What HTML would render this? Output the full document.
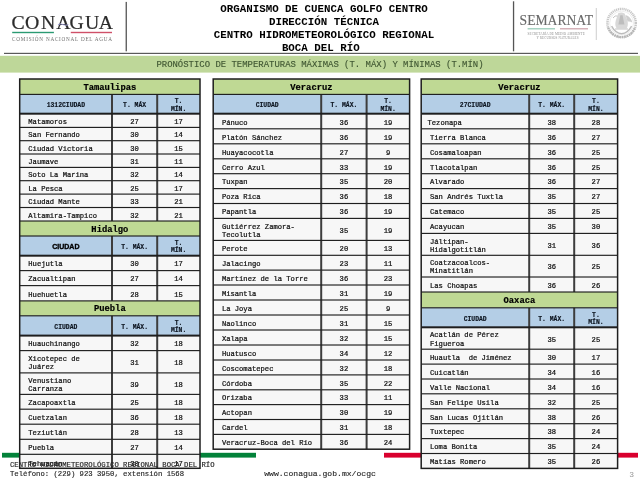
<!DOCTYPE html>
<html><head><meta charset="utf-8"><title>Pronóstico de temperaturas</title>
<style>
html,body{margin:0;padding:0;background:#fff;}
body{width:640px;height:480px;overflow:hidden;position:relative;font-family:"Liberation Mono", "DejaVu Sans Mono", monospace;}
.a{position:absolute;}
.t{position:absolute;white-space:pre;line-height:1;}
svg{position:absolute;left:0;top:0;}
</style></head><body>
<!-- header graphics -->
<svg width="640" height="480" viewBox="0 0 640 480">
  <!-- CONAGUA logo -->
<text transform="translate(0 28.7) scale(1.08 1)" x="10.55 23.14 38.08 52.14 64.34 78.60 91.40" y="0" font-family='"Liberation Serif", "DejaVu Serif", serif' font-size="18.3" fill="#2b2b2b" stroke="#2b2b2b" stroke-width="0.22">CONAGUA</text>
  <path d="M58 24.6 q2.6 -1.4 5.2 0 t5.2 0" fill="none" stroke="#9a9ad2" stroke-width="0.9"/>
  <rect x="12.2" y="31.8" width="41.7" height="1.4" fill="#2a9a72"/>
  <rect x="70.8" y="31.8" width="41.2" height="1.4" fill="#cf5068"/>
  <text x="62.5" y="41.3" font-family='"Liberation Serif", "DejaVu Serif", serif' font-size="5.2" fill="#707070" text-anchor="middle" letter-spacing="0.76">COMISIÓN NACIONAL DEL AGUA</text>
  <rect x="125.6" y="1.9" width="1.3" height="49.4" fill="#555"/>
  <!-- SEMARNAT -->
  <rect x="512.9" y="1.3" width="1.3" height="50" fill="#555"/>
  <text x="0" y="0" transform="translate(519.6 25.4) scale(0.885 1)" font-family='"Liberation Serif", "DejaVu Serif", serif' font-size="15.4" fill="#6a6a6a" stroke="#6a6a6a" stroke-width="0.15">SEMARNAT</text>
  <rect x="527.6" y="28.4" width="27.4" height="0.9" fill="#6fb59a"/>
  <rect x="560" y="28.4" width="28" height="0.9" fill="#b9808c"/>
  <text x="556.2" y="34.9" font-family='"Liberation Serif", "DejaVu Serif", serif' font-size="3.3" fill="#8f8f8f" text-anchor="middle" letter-spacing="0.1">SECRETARÍA DE MEDIO AMBIENTE</text>
  <text x="557.5" y="38.9" font-family='"Liberation Serif", "DejaVu Serif", serif' font-size="3.3" fill="#8f8f8f" text-anchor="middle" letter-spacing="0.1">Y RECURSOS NATURALES</text>
  <rect x="595.8" y="8" width="0.9" height="32" fill="#c8c8c8"/>
  <!-- emblem -->
  <g>
    <circle cx="621.6" cy="23.1" r="14.2" fill="none" stroke="#c6c6c6" stroke-width="2.5" stroke-dasharray="1.2 0.7"/>
    <path d="M608.2 27.5 A14.2 14.2 0 0 0 635 27.5" fill="none" stroke="#b4b4b4" stroke-width="2.2" stroke-dasharray="1.6 0.9"/>
    <circle cx="621.6" cy="23.1" r="11.9" fill="none" stroke="#e0e0e0" stroke-width="0.6"/>
    <path d="M618.2 13.2 Q621.5 11.6 624.6 13.4 L627.4 20.5 Q628.6 25.2 626.6 28.4 L616.6 28.4 Q614.6 25 615.8 20.5 Z" fill="#d8d8d8"/>
    <path d="M620.3 15.2 L622.6 15.2 L624.4 24.5 L618.4 24.5 Z" fill="#bdbdbd"/>
    <path d="M625.5 15 Q631 16.5 632.3 22.5 Q629.8 21 627.6 21.6 Z" fill="#cfcfcf"/>
    <path d="M613 18 Q615 15 617.5 16" fill="none" stroke="#c4c4c4" stroke-width="1"/>
    <path d="M611.6 26.2 Q615.5 33.4 621.6 33.8 Q627.8 33.4 631.6 26.2" fill="none" stroke="#bcbcbc" stroke-width="1.4"/>
    <path d="M615 29 L628 29" stroke="#c8c8c8" stroke-width="1.1"/>
  </g>
  <!-- rule and band -->
  <rect x="4" y="52.8" width="634" height="1.2" fill="#5a5a5a"/>
  <rect x="0" y="55.8" width="640" height="16.8" fill="#bed799"/>
</svg>
<div class="t" style="left:0;width:648px;text-align:center;top:2.55px;font-size:10.8px;font-weight:bold;color:#000;line-height:13px;">ORGANISMO DE CUENCA GOLFO CENTRO
DIRECCIÓN TÉCNICA
CENTRO HIDROMETEOROLÓGICO REGIONAL
BOCA DEL RÍO </div>
<div class="t" style="left:0;width:640px;text-align:center;top:61.0px;font-size:8.95px;color:#3e5531;-webkit-text-stroke:0.12px #3e5531;">PRONÓSTICO DE TEMPERATURAS MÁXIMAS (T. MÁX) Y MÍNIMAS (T.MÍN)</div>
<!-- footer bars (under tables) -->
<svg width="640" height="480" viewBox="0 0 640 480">
  <rect x="2" y="452.8" width="254" height="4.8" fill="#03823a"/>
  <rect x="384" y="452.8" width="254" height="4.8" fill="#d9002e"/>
</svg>
<svg width="640" height="480" viewBox="0 0 640 480">
<rect x="19.70" y="79.00" width="180.30" height="15.40" fill="#bfd994"/>
<text x="109.85" y="89.80" font-family='"Liberation Mono", "DejaVu Sans Mono", monospace' font-size="8.8" font-weight="bold" text-anchor="middle" fill="#000" stroke="#000" stroke-width="0.2">Tamaulipas</text>
<rect x="19.70" y="94.40" width="180.30" height="19.30" fill="#b4cee6"/>
<text x="65.85" y="107.06" font-family='"Liberation Mono", "DejaVu Sans Mono", monospace' font-size="6.4" font-weight="bold" text-anchor="middle" fill="#0d1520" stroke="#0d1520" stroke-width="0.15">1312CIUDAD</text>
<text x="134.60" y="107.06" font-family='"Liberation Mono", "DejaVu Sans Mono", monospace' font-size="6.4" font-weight="bold" text-anchor="middle" fill="#0d1520" stroke="#0d1520" stroke-width="0.15">T. MÁX</text>
<text x="178.60" y="103.46" font-family='"Liberation Mono", "DejaVu Sans Mono", monospace' font-size="6.4" font-weight="bold" text-anchor="middle" fill="#0d1520" stroke="#0d1520" stroke-width="0.15">T.</text>
<text x="178.60" y="110.66" font-family='"Liberation Mono", "DejaVu Sans Mono", monospace' font-size="6.4" font-weight="bold" text-anchor="middle" fill="#0d1520" stroke="#0d1520" stroke-width="0.15">MÍN.</text>
<rect x="19.70" y="113.70" width="180.30" height="13.70" fill="#f7f7f7"/>
<text x="28.30" y="123.81" font-family='"Liberation Mono", "DejaVu Sans Mono", monospace' font-size="7.17" font-weight="normal" text-anchor="start" fill="#111" xml:space="preserve" stroke="#111" stroke-width="0.22">Matamoros</text>
<text x="134.60" y="123.81" font-family='"Liberation Mono", "DejaVu Sans Mono", monospace' font-size="7.17" font-weight="normal" text-anchor="middle" fill="#111" stroke="#111" stroke-width="0.22">27</text>
<text x="178.60" y="123.81" font-family='"Liberation Mono", "DejaVu Sans Mono", monospace' font-size="7.17" font-weight="normal" text-anchor="middle" fill="#111" stroke="#111" stroke-width="0.22">17</text>
<rect x="19.70" y="127.40" width="180.30" height="13.30" fill="#f7f7f7"/>
<text x="28.30" y="137.31" font-family='"Liberation Mono", "DejaVu Sans Mono", monospace' font-size="7.17" font-weight="normal" text-anchor="start" fill="#111" xml:space="preserve" stroke="#111" stroke-width="0.22">San Fernando</text>
<text x="134.60" y="137.31" font-family='"Liberation Mono", "DejaVu Sans Mono", monospace' font-size="7.17" font-weight="normal" text-anchor="middle" fill="#111" stroke="#111" stroke-width="0.22">30</text>
<text x="178.60" y="137.31" font-family='"Liberation Mono", "DejaVu Sans Mono", monospace' font-size="7.17" font-weight="normal" text-anchor="middle" fill="#111" stroke="#111" stroke-width="0.22">14</text>
<rect x="19.70" y="140.70" width="180.30" height="13.30" fill="#f7f7f7"/>
<text x="28.30" y="150.61" font-family='"Liberation Mono", "DejaVu Sans Mono", monospace' font-size="7.17" font-weight="normal" text-anchor="start" fill="#111" xml:space="preserve" stroke="#111" stroke-width="0.22">Ciudad Victoria</text>
<text x="134.60" y="150.61" font-family='"Liberation Mono", "DejaVu Sans Mono", monospace' font-size="7.17" font-weight="normal" text-anchor="middle" fill="#111" stroke="#111" stroke-width="0.22">30</text>
<text x="178.60" y="150.61" font-family='"Liberation Mono", "DejaVu Sans Mono", monospace' font-size="7.17" font-weight="normal" text-anchor="middle" fill="#111" stroke="#111" stroke-width="0.22">15</text>
<rect x="19.70" y="154.00" width="180.30" height="13.40" fill="#f7f7f7"/>
<text x="28.30" y="163.96" font-family='"Liberation Mono", "DejaVu Sans Mono", monospace' font-size="7.17" font-weight="normal" text-anchor="start" fill="#111" xml:space="preserve" stroke="#111" stroke-width="0.22">Jaumave</text>
<text x="134.60" y="163.96" font-family='"Liberation Mono", "DejaVu Sans Mono", monospace' font-size="7.17" font-weight="normal" text-anchor="middle" fill="#111" stroke="#111" stroke-width="0.22">31</text>
<text x="178.60" y="163.96" font-family='"Liberation Mono", "DejaVu Sans Mono", monospace' font-size="7.17" font-weight="normal" text-anchor="middle" fill="#111" stroke="#111" stroke-width="0.22">11</text>
<rect x="19.70" y="167.40" width="180.30" height="13.30" fill="#f7f7f7"/>
<text x="28.30" y="177.31" font-family='"Liberation Mono", "DejaVu Sans Mono", monospace' font-size="7.17" font-weight="normal" text-anchor="start" fill="#111" xml:space="preserve" stroke="#111" stroke-width="0.22">Soto La Marina</text>
<text x="134.60" y="177.31" font-family='"Liberation Mono", "DejaVu Sans Mono", monospace' font-size="7.17" font-weight="normal" text-anchor="middle" fill="#111" stroke="#111" stroke-width="0.22">32</text>
<text x="178.60" y="177.31" font-family='"Liberation Mono", "DejaVu Sans Mono", monospace' font-size="7.17" font-weight="normal" text-anchor="middle" fill="#111" stroke="#111" stroke-width="0.22">14</text>
<rect x="19.70" y="180.70" width="180.30" height="13.40" fill="#f7f7f7"/>
<text x="28.30" y="190.66" font-family='"Liberation Mono", "DejaVu Sans Mono", monospace' font-size="7.17" font-weight="normal" text-anchor="start" fill="#111" xml:space="preserve" stroke="#111" stroke-width="0.22">La Pesca</text>
<text x="134.60" y="190.66" font-family='"Liberation Mono", "DejaVu Sans Mono", monospace' font-size="7.17" font-weight="normal" text-anchor="middle" fill="#111" stroke="#111" stroke-width="0.22">25</text>
<text x="178.60" y="190.66" font-family='"Liberation Mono", "DejaVu Sans Mono", monospace' font-size="7.17" font-weight="normal" text-anchor="middle" fill="#111" stroke="#111" stroke-width="0.22">17</text>
<rect x="19.70" y="194.10" width="180.30" height="13.40" fill="#f7f7f7"/>
<text x="28.30" y="204.06" font-family='"Liberation Mono", "DejaVu Sans Mono", monospace' font-size="7.17" font-weight="normal" text-anchor="start" fill="#111" xml:space="preserve" stroke="#111" stroke-width="0.22">Ciudad Mante</text>
<text x="134.60" y="204.06" font-family='"Liberation Mono", "DejaVu Sans Mono", monospace' font-size="7.17" font-weight="normal" text-anchor="middle" fill="#111" stroke="#111" stroke-width="0.22">33</text>
<text x="178.60" y="204.06" font-family='"Liberation Mono", "DejaVu Sans Mono", monospace' font-size="7.17" font-weight="normal" text-anchor="middle" fill="#111" stroke="#111" stroke-width="0.22">21</text>
<rect x="19.70" y="207.50" width="180.30" height="13.50" fill="#f7f7f7"/>
<text x="28.30" y="217.51" font-family='"Liberation Mono", "DejaVu Sans Mono", monospace' font-size="7.17" font-weight="normal" text-anchor="start" fill="#111" xml:space="preserve" stroke="#111" stroke-width="0.22">Altamira-Tampico</text>
<text x="134.60" y="217.51" font-family='"Liberation Mono", "DejaVu Sans Mono", monospace' font-size="7.17" font-weight="normal" text-anchor="middle" fill="#111" stroke="#111" stroke-width="0.22">32</text>
<text x="178.60" y="217.51" font-family='"Liberation Mono", "DejaVu Sans Mono", monospace' font-size="7.17" font-weight="normal" text-anchor="middle" fill="#111" stroke="#111" stroke-width="0.22">21</text>
<rect x="19.70" y="221.00" width="180.30" height="15.00" fill="#bfd994"/>
<text x="109.85" y="231.60" font-family='"Liberation Mono", "DejaVu Sans Mono", monospace' font-size="8.8" font-weight="bold" text-anchor="middle" fill="#000" stroke="#000" stroke-width="0.2">Hidalgo</text>
<rect x="19.70" y="236.00" width="180.30" height="19.70" fill="#b4cee6"/>
<text x="65.85" y="248.96" font-family='"Liberation Sans", "DejaVu Sans", sans-serif' font-size="7.0" font-weight="bold" text-anchor="middle" fill="#000" stroke="#000" stroke-width="0.35">CIUDAD</text>
<text x="134.60" y="248.86" font-family='"Liberation Mono", "DejaVu Sans Mono", monospace' font-size="6.4" font-weight="bold" text-anchor="middle" fill="#0d1520" stroke="#0d1520" stroke-width="0.15">T. MÁX.</text>
<text x="178.60" y="245.26" font-family='"Liberation Mono", "DejaVu Sans Mono", monospace' font-size="6.4" font-weight="bold" text-anchor="middle" fill="#0d1520" stroke="#0d1520" stroke-width="0.15">T.</text>
<text x="178.60" y="252.46" font-family='"Liberation Mono", "DejaVu Sans Mono", monospace' font-size="6.4" font-weight="bold" text-anchor="middle" fill="#0d1520" stroke="#0d1520" stroke-width="0.15">MÍN.</text>
<rect x="19.70" y="255.70" width="180.30" height="14.90" fill="#f7f7f7"/>
<text x="28.30" y="266.41" font-family='"Liberation Mono", "DejaVu Sans Mono", monospace' font-size="7.17" font-weight="normal" text-anchor="start" fill="#111" xml:space="preserve" stroke="#111" stroke-width="0.22">Huejutla</text>
<text x="134.60" y="266.41" font-family='"Liberation Mono", "DejaVu Sans Mono", monospace' font-size="7.17" font-weight="normal" text-anchor="middle" fill="#111" stroke="#111" stroke-width="0.22">30</text>
<text x="178.60" y="266.41" font-family='"Liberation Mono", "DejaVu Sans Mono", monospace' font-size="7.17" font-weight="normal" text-anchor="middle" fill="#111" stroke="#111" stroke-width="0.22">17</text>
<rect x="19.70" y="270.60" width="180.30" height="15.00" fill="#f7f7f7"/>
<text x="28.30" y="281.36" font-family='"Liberation Mono", "DejaVu Sans Mono", monospace' font-size="7.17" font-weight="normal" text-anchor="start" fill="#111" xml:space="preserve" stroke="#111" stroke-width="0.22">Zacualtipan</text>
<text x="134.60" y="281.36" font-family='"Liberation Mono", "DejaVu Sans Mono", monospace' font-size="7.17" font-weight="normal" text-anchor="middle" fill="#111" stroke="#111" stroke-width="0.22">27</text>
<text x="178.60" y="281.36" font-family='"Liberation Mono", "DejaVu Sans Mono", monospace' font-size="7.17" font-weight="normal" text-anchor="middle" fill="#111" stroke="#111" stroke-width="0.22">14</text>
<rect x="19.70" y="285.60" width="180.30" height="15.30" fill="#f7f7f7"/>
<text x="28.30" y="296.51" font-family='"Liberation Mono", "DejaVu Sans Mono", monospace' font-size="7.17" font-weight="normal" text-anchor="start" fill="#111" xml:space="preserve" stroke="#111" stroke-width="0.22">Huehuetla</text>
<text x="134.60" y="296.51" font-family='"Liberation Mono", "DejaVu Sans Mono", monospace' font-size="7.17" font-weight="normal" text-anchor="middle" fill="#111" stroke="#111" stroke-width="0.22">28</text>
<text x="178.60" y="296.51" font-family='"Liberation Mono", "DejaVu Sans Mono", monospace' font-size="7.17" font-weight="normal" text-anchor="middle" fill="#111" stroke="#111" stroke-width="0.22">15</text>
<rect x="19.70" y="300.90" width="180.30" height="14.90" fill="#bfd994"/>
<text x="109.85" y="311.45" font-family='"Liberation Mono", "DejaVu Sans Mono", monospace' font-size="8.8" font-weight="bold" text-anchor="middle" fill="#000" stroke="#000" stroke-width="0.2">Puebla</text>
<rect x="19.70" y="315.80" width="180.30" height="19.80" fill="#b4cee6"/>
<text x="65.85" y="328.71" font-family='"Liberation Mono", "DejaVu Sans Mono", monospace' font-size="6.4" font-weight="bold" text-anchor="middle" fill="#0d1520" stroke="#0d1520" stroke-width="0.15">CIUDAD</text>
<text x="134.60" y="328.71" font-family='"Liberation Mono", "DejaVu Sans Mono", monospace' font-size="6.4" font-weight="bold" text-anchor="middle" fill="#0d1520" stroke="#0d1520" stroke-width="0.15">T. MÁX.</text>
<text x="178.60" y="325.11" font-family='"Liberation Mono", "DejaVu Sans Mono", monospace' font-size="6.4" font-weight="bold" text-anchor="middle" fill="#0d1520" stroke="#0d1520" stroke-width="0.15">T.</text>
<text x="178.60" y="332.31" font-family='"Liberation Mono", "DejaVu Sans Mono", monospace' font-size="6.4" font-weight="bold" text-anchor="middle" fill="#0d1520" stroke="#0d1520" stroke-width="0.15">MÍN.</text>
<rect x="19.70" y="335.60" width="180.30" height="15.00" fill="#f7f7f7"/>
<text x="28.30" y="346.36" font-family='"Liberation Mono", "DejaVu Sans Mono", monospace' font-size="7.17" font-weight="normal" text-anchor="start" fill="#111" xml:space="preserve" stroke="#111" stroke-width="0.22">Huauchinango</text>
<text x="134.60" y="346.36" font-family='"Liberation Mono", "DejaVu Sans Mono", monospace' font-size="7.17" font-weight="normal" text-anchor="middle" fill="#111" stroke="#111" stroke-width="0.22">32</text>
<text x="178.60" y="346.36" font-family='"Liberation Mono", "DejaVu Sans Mono", monospace' font-size="7.17" font-weight="normal" text-anchor="middle" fill="#111" stroke="#111" stroke-width="0.22">18</text>
<rect x="19.70" y="350.60" width="180.30" height="22.30" fill="#f7f7f7"/>
<text x="28.30" y="360.96" font-family='"Liberation Mono", "DejaVu Sans Mono", monospace' font-size="7.17" font-weight="normal" text-anchor="start" fill="#111" xml:space="preserve" stroke="#111" stroke-width="0.22">Xicotepec de</text>
<text x="28.30" y="369.06" font-family='"Liberation Mono", "DejaVu Sans Mono", monospace' font-size="7.17" font-weight="normal" text-anchor="start" fill="#111" xml:space="preserve" stroke="#111" stroke-width="0.22">Juárez</text>
<text x="134.60" y="365.01" font-family='"Liberation Mono", "DejaVu Sans Mono", monospace' font-size="7.17" font-weight="normal" text-anchor="middle" fill="#111" stroke="#111" stroke-width="0.22">31</text>
<text x="178.60" y="365.01" font-family='"Liberation Mono", "DejaVu Sans Mono", monospace' font-size="7.17" font-weight="normal" text-anchor="middle" fill="#111" stroke="#111" stroke-width="0.22">18</text>
<rect x="19.70" y="372.90" width="180.30" height="21.50" fill="#f7f7f7"/>
<text x="28.30" y="382.86" font-family='"Liberation Mono", "DejaVu Sans Mono", monospace' font-size="7.17" font-weight="normal" text-anchor="start" fill="#111" xml:space="preserve" stroke="#111" stroke-width="0.22">Venustiano</text>
<text x="28.30" y="390.96" font-family='"Liberation Mono", "DejaVu Sans Mono", monospace' font-size="7.17" font-weight="normal" text-anchor="start" fill="#111" xml:space="preserve" stroke="#111" stroke-width="0.22">Carranza</text>
<text x="134.60" y="386.91" font-family='"Liberation Mono", "DejaVu Sans Mono", monospace' font-size="7.17" font-weight="normal" text-anchor="middle" fill="#111" stroke="#111" stroke-width="0.22">39</text>
<text x="178.60" y="386.91" font-family='"Liberation Mono", "DejaVu Sans Mono", monospace' font-size="7.17" font-weight="normal" text-anchor="middle" fill="#111" stroke="#111" stroke-width="0.22">18</text>
<rect x="19.70" y="394.40" width="180.30" height="14.80" fill="#f7f7f7"/>
<text x="28.30" y="405.06" font-family='"Liberation Mono", "DejaVu Sans Mono", monospace' font-size="7.17" font-weight="normal" text-anchor="start" fill="#111" xml:space="preserve" stroke="#111" stroke-width="0.22">Zacapoaxtla</text>
<text x="134.60" y="405.06" font-family='"Liberation Mono", "DejaVu Sans Mono", monospace' font-size="7.17" font-weight="normal" text-anchor="middle" fill="#111" stroke="#111" stroke-width="0.22">25</text>
<text x="178.60" y="405.06" font-family='"Liberation Mono", "DejaVu Sans Mono", monospace' font-size="7.17" font-weight="normal" text-anchor="middle" fill="#111" stroke="#111" stroke-width="0.22">18</text>
<rect x="19.70" y="409.20" width="180.30" height="15.00" fill="#f7f7f7"/>
<text x="28.30" y="419.96" font-family='"Liberation Mono", "DejaVu Sans Mono", monospace' font-size="7.17" font-weight="normal" text-anchor="start" fill="#111" xml:space="preserve" stroke="#111" stroke-width="0.22">Cuetzalan</text>
<text x="134.60" y="419.96" font-family='"Liberation Mono", "DejaVu Sans Mono", monospace' font-size="7.17" font-weight="normal" text-anchor="middle" fill="#111" stroke="#111" stroke-width="0.22">36</text>
<text x="178.60" y="419.96" font-family='"Liberation Mono", "DejaVu Sans Mono", monospace' font-size="7.17" font-weight="normal" text-anchor="middle" fill="#111" stroke="#111" stroke-width="0.22">18</text>
<rect x="19.70" y="424.20" width="180.30" height="15.10" fill="#f7f7f7"/>
<text x="28.30" y="435.01" font-family='"Liberation Mono", "DejaVu Sans Mono", monospace' font-size="7.17" font-weight="normal" text-anchor="start" fill="#111" xml:space="preserve" stroke="#111" stroke-width="0.22">Teziutlán</text>
<text x="134.60" y="435.01" font-family='"Liberation Mono", "DejaVu Sans Mono", monospace' font-size="7.17" font-weight="normal" text-anchor="middle" fill="#111" stroke="#111" stroke-width="0.22">28</text>
<text x="178.60" y="435.01" font-family='"Liberation Mono", "DejaVu Sans Mono", monospace' font-size="7.17" font-weight="normal" text-anchor="middle" fill="#111" stroke="#111" stroke-width="0.22">13</text>
<rect x="19.70" y="439.30" width="180.30" height="15.00" fill="#f7f7f7"/>
<text x="28.30" y="450.06" font-family='"Liberation Mono", "DejaVu Sans Mono", monospace' font-size="7.17" font-weight="normal" text-anchor="start" fill="#111" xml:space="preserve" stroke="#111" stroke-width="0.22">Puebla</text>
<text x="134.60" y="450.06" font-family='"Liberation Mono", "DejaVu Sans Mono", monospace' font-size="7.17" font-weight="normal" text-anchor="middle" fill="#111" stroke="#111" stroke-width="0.22">27</text>
<text x="178.60" y="450.06" font-family='"Liberation Mono", "DejaVu Sans Mono", monospace' font-size="7.17" font-weight="normal" text-anchor="middle" fill="#111" stroke="#111" stroke-width="0.22">14</text>
<rect x="19.70" y="454.30" width="180.30" height="14.00" fill="#f7f7f7"/>
<text x="28.30" y="466.36" font-family='"Liberation Mono", "DejaVu Sans Mono", monospace' font-size="7.17" font-weight="normal" text-anchor="start" fill="#111" xml:space="preserve" stroke="#111" stroke-width="0.22">Tehuacán</text>
<text x="134.60" y="466.36" font-family='"Liberation Mono", "DejaVu Sans Mono", monospace' font-size="7.17" font-weight="normal" text-anchor="middle" fill="#111" stroke="#111" stroke-width="0.22">30</text>
<text x="178.60" y="466.36" font-family='"Liberation Mono", "DejaVu Sans Mono", monospace' font-size="7.17" font-weight="normal" text-anchor="middle" fill="#111" stroke="#111" stroke-width="0.22">17</text>
<rect x="111.00" y="94.40" width="2" height="19.30" fill="#3d3d3d"/>
<rect x="156.20" y="94.40" width="2" height="19.30" fill="#3d3d3d"/>
<rect x="111.00" y="113.70" width="2" height="13.70" fill="#3d3d3d"/>
<rect x="156.20" y="113.70" width="2" height="13.70" fill="#3d3d3d"/>
<rect x="111.00" y="127.40" width="2" height="13.30" fill="#3d3d3d"/>
<rect x="156.20" y="127.40" width="2" height="13.30" fill="#3d3d3d"/>
<rect x="111.00" y="140.70" width="2" height="13.30" fill="#3d3d3d"/>
<rect x="156.20" y="140.70" width="2" height="13.30" fill="#3d3d3d"/>
<rect x="111.00" y="154.00" width="2" height="13.40" fill="#3d3d3d"/>
<rect x="156.20" y="154.00" width="2" height="13.40" fill="#3d3d3d"/>
<rect x="111.00" y="167.40" width="2" height="13.30" fill="#3d3d3d"/>
<rect x="156.20" y="167.40" width="2" height="13.30" fill="#3d3d3d"/>
<rect x="111.00" y="180.70" width="2" height="13.40" fill="#3d3d3d"/>
<rect x="156.20" y="180.70" width="2" height="13.40" fill="#3d3d3d"/>
<rect x="111.00" y="194.10" width="2" height="13.40" fill="#3d3d3d"/>
<rect x="156.20" y="194.10" width="2" height="13.40" fill="#3d3d3d"/>
<rect x="111.00" y="207.50" width="2" height="13.50" fill="#3d3d3d"/>
<rect x="156.20" y="207.50" width="2" height="13.50" fill="#3d3d3d"/>
<rect x="111.00" y="236.00" width="2" height="19.70" fill="#3d3d3d"/>
<rect x="156.20" y="236.00" width="2" height="19.70" fill="#3d3d3d"/>
<rect x="111.00" y="255.70" width="2" height="14.90" fill="#3d3d3d"/>
<rect x="156.20" y="255.70" width="2" height="14.90" fill="#3d3d3d"/>
<rect x="111.00" y="270.60" width="2" height="15.00" fill="#3d3d3d"/>
<rect x="156.20" y="270.60" width="2" height="15.00" fill="#3d3d3d"/>
<rect x="111.00" y="285.60" width="2" height="15.30" fill="#3d3d3d"/>
<rect x="156.20" y="285.60" width="2" height="15.30" fill="#3d3d3d"/>
<rect x="111.00" y="315.80" width="2" height="19.80" fill="#3d3d3d"/>
<rect x="156.20" y="315.80" width="2" height="19.80" fill="#3d3d3d"/>
<rect x="111.00" y="335.60" width="2" height="15.00" fill="#3d3d3d"/>
<rect x="156.20" y="335.60" width="2" height="15.00" fill="#3d3d3d"/>
<rect x="111.00" y="350.60" width="2" height="22.30" fill="#3d3d3d"/>
<rect x="156.20" y="350.60" width="2" height="22.30" fill="#3d3d3d"/>
<rect x="111.00" y="372.90" width="2" height="21.50" fill="#3d3d3d"/>
<rect x="156.20" y="372.90" width="2" height="21.50" fill="#3d3d3d"/>
<rect x="111.00" y="394.40" width="2" height="14.80" fill="#3d3d3d"/>
<rect x="156.20" y="394.40" width="2" height="14.80" fill="#3d3d3d"/>
<rect x="111.00" y="409.20" width="2" height="15.00" fill="#3d3d3d"/>
<rect x="156.20" y="409.20" width="2" height="15.00" fill="#3d3d3d"/>
<rect x="111.00" y="424.20" width="2" height="15.10" fill="#3d3d3d"/>
<rect x="156.20" y="424.20" width="2" height="15.10" fill="#3d3d3d"/>
<rect x="111.00" y="439.30" width="2" height="15.00" fill="#3d3d3d"/>
<rect x="156.20" y="439.30" width="2" height="15.00" fill="#3d3d3d"/>
<rect x="111.00" y="454.30" width="2" height="14.00" fill="#3d3d3d"/>
<rect x="156.20" y="454.30" width="2" height="14.00" fill="#3d3d3d"/>
<rect x="19.70" y="93.83" width="180.30" height="1.15" fill="#1e1e1e"/>
<rect x="19.70" y="112.70" width="180.30" height="2.00" fill="#1e1e1e"/>
<rect x="19.70" y="126.83" width="180.30" height="1.15" fill="#1e1e1e"/>
<rect x="19.70" y="140.12" width="180.30" height="1.15" fill="#1e1e1e"/>
<rect x="19.70" y="153.43" width="180.30" height="1.15" fill="#1e1e1e"/>
<rect x="19.70" y="166.83" width="180.30" height="1.15" fill="#1e1e1e"/>
<rect x="19.70" y="180.12" width="180.30" height="1.15" fill="#1e1e1e"/>
<rect x="19.70" y="193.53" width="180.30" height="1.15" fill="#1e1e1e"/>
<rect x="19.70" y="206.93" width="180.30" height="1.15" fill="#1e1e1e"/>
<rect x="19.70" y="220.43" width="180.30" height="1.15" fill="#1e1e1e"/>
<rect x="19.70" y="235.43" width="180.30" height="1.15" fill="#1e1e1e"/>
<rect x="19.70" y="254.70" width="180.30" height="2.00" fill="#1e1e1e"/>
<rect x="19.70" y="270.03" width="180.30" height="1.15" fill="#1e1e1e"/>
<rect x="19.70" y="285.03" width="180.30" height="1.15" fill="#1e1e1e"/>
<rect x="19.70" y="300.32" width="180.30" height="1.15" fill="#1e1e1e"/>
<rect x="19.70" y="315.23" width="180.30" height="1.15" fill="#1e1e1e"/>
<rect x="19.70" y="334.60" width="180.30" height="2.00" fill="#1e1e1e"/>
<rect x="19.70" y="350.03" width="180.30" height="1.15" fill="#1e1e1e"/>
<rect x="19.70" y="372.32" width="180.30" height="1.15" fill="#1e1e1e"/>
<rect x="19.70" y="393.82" width="180.30" height="1.15" fill="#1e1e1e"/>
<rect x="19.70" y="408.62" width="180.30" height="1.15" fill="#1e1e1e"/>
<rect x="19.70" y="423.62" width="180.30" height="1.15" fill="#1e1e1e"/>
<rect x="19.70" y="438.73" width="180.30" height="1.15" fill="#1e1e1e"/>
<rect x="19.70" y="453.73" width="180.30" height="1.15" fill="#1e1e1e"/>
<rect x="19.70" y="79.00" width="180.30" height="389.30" fill="none" stroke="#1e1e1e" stroke-width="1.5"/>
<rect x="213.20" y="79.00" width="196.40" height="15.40" fill="#bfd994"/>
<text x="311.40" y="89.80" font-family='"Liberation Mono", "DejaVu Sans Mono", monospace' font-size="8.8" font-weight="bold" text-anchor="middle" fill="#000" stroke="#000" stroke-width="0.2">Veracruz</text>
<rect x="213.20" y="94.40" width="196.40" height="19.30" fill="#b4cee6"/>
<text x="267.20" y="107.06" font-family='"Liberation Mono", "DejaVu Sans Mono", monospace' font-size="6.4" font-weight="bold" text-anchor="middle" fill="#0d1520" stroke="#0d1520" stroke-width="0.15">CIUDAD</text>
<text x="343.90" y="107.06" font-family='"Liberation Mono", "DejaVu Sans Mono", monospace' font-size="6.4" font-weight="bold" text-anchor="middle" fill="#0d1520" stroke="#0d1520" stroke-width="0.15">T. MÁX.</text>
<text x="388.10" y="103.46" font-family='"Liberation Mono", "DejaVu Sans Mono", monospace' font-size="6.4" font-weight="bold" text-anchor="middle" fill="#0d1520" stroke="#0d1520" stroke-width="0.15">T.</text>
<text x="388.10" y="110.66" font-family='"Liberation Mono", "DejaVu Sans Mono", monospace' font-size="6.4" font-weight="bold" text-anchor="middle" fill="#0d1520" stroke="#0d1520" stroke-width="0.15">MÍN.</text>
<rect x="213.20" y="113.70" width="196.40" height="15.10" fill="#f7f7f7"/>
<text x="221.90" y="124.51" font-family='"Liberation Mono", "DejaVu Sans Mono", monospace' font-size="7.17" font-weight="normal" text-anchor="start" fill="#111" xml:space="preserve" stroke="#111" stroke-width="0.22">Pánuco</text>
<text x="343.90" y="124.51" font-family='"Liberation Mono", "DejaVu Sans Mono", monospace' font-size="7.17" font-weight="normal" text-anchor="middle" fill="#111" stroke="#111" stroke-width="0.22">36</text>
<text x="388.10" y="124.51" font-family='"Liberation Mono", "DejaVu Sans Mono", monospace' font-size="7.17" font-weight="normal" text-anchor="middle" fill="#111" stroke="#111" stroke-width="0.22">19</text>
<rect x="213.20" y="128.80" width="196.40" height="15.00" fill="#f7f7f7"/>
<text x="221.90" y="139.56" font-family='"Liberation Mono", "DejaVu Sans Mono", monospace' font-size="7.17" font-weight="normal" text-anchor="start" fill="#111" xml:space="preserve" stroke="#111" stroke-width="0.22">Platón Sánchez</text>
<text x="343.90" y="139.56" font-family='"Liberation Mono", "DejaVu Sans Mono", monospace' font-size="7.17" font-weight="normal" text-anchor="middle" fill="#111" stroke="#111" stroke-width="0.22">36</text>
<text x="388.10" y="139.56" font-family='"Liberation Mono", "DejaVu Sans Mono", monospace' font-size="7.17" font-weight="normal" text-anchor="middle" fill="#111" stroke="#111" stroke-width="0.22">19</text>
<rect x="213.20" y="143.80" width="196.40" height="15.00" fill="#f7f7f7"/>
<text x="221.90" y="154.56" font-family='"Liberation Mono", "DejaVu Sans Mono", monospace' font-size="7.17" font-weight="normal" text-anchor="start" fill="#111" xml:space="preserve" stroke="#111" stroke-width="0.22">Huayacocotla</text>
<text x="343.90" y="154.56" font-family='"Liberation Mono", "DejaVu Sans Mono", monospace' font-size="7.17" font-weight="normal" text-anchor="middle" fill="#111" stroke="#111" stroke-width="0.22">27</text>
<text x="388.10" y="154.56" font-family='"Liberation Mono", "DejaVu Sans Mono", monospace' font-size="7.17" font-weight="normal" text-anchor="middle" fill="#111" stroke="#111" stroke-width="0.22">9</text>
<rect x="213.20" y="158.80" width="196.40" height="14.90" fill="#f7f7f7"/>
<text x="221.90" y="169.51" font-family='"Liberation Mono", "DejaVu Sans Mono", monospace' font-size="7.17" font-weight="normal" text-anchor="start" fill="#111" xml:space="preserve" stroke="#111" stroke-width="0.22">Cerro Azul</text>
<text x="343.90" y="169.51" font-family='"Liberation Mono", "DejaVu Sans Mono", monospace' font-size="7.17" font-weight="normal" text-anchor="middle" fill="#111" stroke="#111" stroke-width="0.22">33</text>
<text x="388.10" y="169.51" font-family='"Liberation Mono", "DejaVu Sans Mono", monospace' font-size="7.17" font-weight="normal" text-anchor="middle" fill="#111" stroke="#111" stroke-width="0.22">19</text>
<rect x="213.20" y="173.70" width="196.40" height="14.90" fill="#f7f7f7"/>
<text x="221.90" y="184.41" font-family='"Liberation Mono", "DejaVu Sans Mono", monospace' font-size="7.17" font-weight="normal" text-anchor="start" fill="#111" xml:space="preserve" stroke="#111" stroke-width="0.22">Tuxpan</text>
<text x="343.90" y="184.41" font-family='"Liberation Mono", "DejaVu Sans Mono", monospace' font-size="7.17" font-weight="normal" text-anchor="middle" fill="#111" stroke="#111" stroke-width="0.22">35</text>
<text x="388.10" y="184.41" font-family='"Liberation Mono", "DejaVu Sans Mono", monospace' font-size="7.17" font-weight="normal" text-anchor="middle" fill="#111" stroke="#111" stroke-width="0.22">20</text>
<rect x="213.20" y="188.60" width="196.40" height="14.90" fill="#f7f7f7"/>
<text x="221.90" y="199.31" font-family='"Liberation Mono", "DejaVu Sans Mono", monospace' font-size="7.17" font-weight="normal" text-anchor="start" fill="#111" xml:space="preserve" stroke="#111" stroke-width="0.22">Poza Rica</text>
<text x="343.90" y="199.31" font-family='"Liberation Mono", "DejaVu Sans Mono", monospace' font-size="7.17" font-weight="normal" text-anchor="middle" fill="#111" stroke="#111" stroke-width="0.22">36</text>
<text x="388.10" y="199.31" font-family='"Liberation Mono", "DejaVu Sans Mono", monospace' font-size="7.17" font-weight="normal" text-anchor="middle" fill="#111" stroke="#111" stroke-width="0.22">18</text>
<rect x="213.20" y="203.50" width="196.40" height="14.90" fill="#f7f7f7"/>
<text x="221.90" y="214.21" font-family='"Liberation Mono", "DejaVu Sans Mono", monospace' font-size="7.17" font-weight="normal" text-anchor="start" fill="#111" xml:space="preserve" stroke="#111" stroke-width="0.22">Papantla</text>
<text x="343.90" y="214.21" font-family='"Liberation Mono", "DejaVu Sans Mono", monospace' font-size="7.17" font-weight="normal" text-anchor="middle" fill="#111" stroke="#111" stroke-width="0.22">36</text>
<text x="388.10" y="214.21" font-family='"Liberation Mono", "DejaVu Sans Mono", monospace' font-size="7.17" font-weight="normal" text-anchor="middle" fill="#111" stroke="#111" stroke-width="0.22">19</text>
<rect x="213.20" y="218.40" width="196.40" height="22.00" fill="#f7f7f7"/>
<text x="221.90" y="228.61" font-family='"Liberation Mono", "DejaVu Sans Mono", monospace' font-size="7.17" font-weight="normal" text-anchor="start" fill="#111" xml:space="preserve" stroke="#111" stroke-width="0.22">Gutiérrez Zamora-</text>
<text x="221.90" y="236.71" font-family='"Liberation Mono", "DejaVu Sans Mono", monospace' font-size="7.17" font-weight="normal" text-anchor="start" fill="#111" xml:space="preserve" stroke="#111" stroke-width="0.22">Tecolutla</text>
<text x="343.90" y="232.66" font-family='"Liberation Mono", "DejaVu Sans Mono", monospace' font-size="7.17" font-weight="normal" text-anchor="middle" fill="#111" stroke="#111" stroke-width="0.22">35</text>
<text x="388.10" y="232.66" font-family='"Liberation Mono", "DejaVu Sans Mono", monospace' font-size="7.17" font-weight="normal" text-anchor="middle" fill="#111" stroke="#111" stroke-width="0.22">19</text>
<rect x="213.20" y="240.40" width="196.40" height="14.90" fill="#f7f7f7"/>
<text x="221.90" y="251.11" font-family='"Liberation Mono", "DejaVu Sans Mono", monospace' font-size="7.17" font-weight="normal" text-anchor="start" fill="#111" xml:space="preserve" stroke="#111" stroke-width="0.22">Perote</text>
<text x="343.90" y="251.11" font-family='"Liberation Mono", "DejaVu Sans Mono", monospace' font-size="7.17" font-weight="normal" text-anchor="middle" fill="#111" stroke="#111" stroke-width="0.22">20</text>
<text x="388.10" y="251.11" font-family='"Liberation Mono", "DejaVu Sans Mono", monospace' font-size="7.17" font-weight="normal" text-anchor="middle" fill="#111" stroke="#111" stroke-width="0.22">13</text>
<rect x="213.20" y="255.30" width="196.40" height="14.80" fill="#f7f7f7"/>
<text x="221.90" y="265.96" font-family='"Liberation Mono", "DejaVu Sans Mono", monospace' font-size="7.17" font-weight="normal" text-anchor="start" fill="#111" xml:space="preserve" stroke="#111" stroke-width="0.22">Jalacingo</text>
<text x="343.90" y="265.96" font-family='"Liberation Mono", "DejaVu Sans Mono", monospace' font-size="7.17" font-weight="normal" text-anchor="middle" fill="#111" stroke="#111" stroke-width="0.22">23</text>
<text x="388.10" y="265.96" font-family='"Liberation Mono", "DejaVu Sans Mono", monospace' font-size="7.17" font-weight="normal" text-anchor="middle" fill="#111" stroke="#111" stroke-width="0.22">11</text>
<rect x="213.20" y="270.10" width="196.40" height="14.90" fill="#f7f7f7"/>
<text x="221.90" y="280.81" font-family='"Liberation Mono", "DejaVu Sans Mono", monospace' font-size="7.17" font-weight="normal" text-anchor="start" fill="#111" xml:space="preserve" stroke="#111" stroke-width="0.22">Martínez de la Torre</text>
<text x="343.90" y="280.81" font-family='"Liberation Mono", "DejaVu Sans Mono", monospace' font-size="7.17" font-weight="normal" text-anchor="middle" fill="#111" stroke="#111" stroke-width="0.22">36</text>
<text x="388.10" y="280.81" font-family='"Liberation Mono", "DejaVu Sans Mono", monospace' font-size="7.17" font-weight="normal" text-anchor="middle" fill="#111" stroke="#111" stroke-width="0.22">23</text>
<rect x="213.20" y="285.00" width="196.40" height="15.00" fill="#f7f7f7"/>
<text x="221.90" y="295.76" font-family='"Liberation Mono", "DejaVu Sans Mono", monospace' font-size="7.17" font-weight="normal" text-anchor="start" fill="#111" xml:space="preserve" stroke="#111" stroke-width="0.22">Misantla</text>
<text x="343.90" y="295.76" font-family='"Liberation Mono", "DejaVu Sans Mono", monospace' font-size="7.17" font-weight="normal" text-anchor="middle" fill="#111" stroke="#111" stroke-width="0.22">31</text>
<text x="388.10" y="295.76" font-family='"Liberation Mono", "DejaVu Sans Mono", monospace' font-size="7.17" font-weight="normal" text-anchor="middle" fill="#111" stroke="#111" stroke-width="0.22">19</text>
<rect x="213.20" y="300.00" width="196.40" height="15.00" fill="#f7f7f7"/>
<text x="221.90" y="310.76" font-family='"Liberation Mono", "DejaVu Sans Mono", monospace' font-size="7.17" font-weight="normal" text-anchor="start" fill="#111" xml:space="preserve" stroke="#111" stroke-width="0.22">La Joya</text>
<text x="343.90" y="310.76" font-family='"Liberation Mono", "DejaVu Sans Mono", monospace' font-size="7.17" font-weight="normal" text-anchor="middle" fill="#111" stroke="#111" stroke-width="0.22">25</text>
<text x="388.10" y="310.76" font-family='"Liberation Mono", "DejaVu Sans Mono", monospace' font-size="7.17" font-weight="normal" text-anchor="middle" fill="#111" stroke="#111" stroke-width="0.22">9</text>
<rect x="213.20" y="315.00" width="196.40" height="15.00" fill="#f7f7f7"/>
<text x="221.90" y="325.76" font-family='"Liberation Mono", "DejaVu Sans Mono", monospace' font-size="7.17" font-weight="normal" text-anchor="start" fill="#111" xml:space="preserve" stroke="#111" stroke-width="0.22">Naolinco</text>
<text x="343.90" y="325.76" font-family='"Liberation Mono", "DejaVu Sans Mono", monospace' font-size="7.17" font-weight="normal" text-anchor="middle" fill="#111" stroke="#111" stroke-width="0.22">31</text>
<text x="388.10" y="325.76" font-family='"Liberation Mono", "DejaVu Sans Mono", monospace' font-size="7.17" font-weight="normal" text-anchor="middle" fill="#111" stroke="#111" stroke-width="0.22">15</text>
<rect x="213.20" y="330.00" width="196.40" height="15.00" fill="#f7f7f7"/>
<text x="221.90" y="340.76" font-family='"Liberation Mono", "DejaVu Sans Mono", monospace' font-size="7.17" font-weight="normal" text-anchor="start" fill="#111" xml:space="preserve" stroke="#111" stroke-width="0.22">Xalapa</text>
<text x="343.90" y="340.76" font-family='"Liberation Mono", "DejaVu Sans Mono", monospace' font-size="7.17" font-weight="normal" text-anchor="middle" fill="#111" stroke="#111" stroke-width="0.22">32</text>
<text x="388.10" y="340.76" font-family='"Liberation Mono", "DejaVu Sans Mono", monospace' font-size="7.17" font-weight="normal" text-anchor="middle" fill="#111" stroke="#111" stroke-width="0.22">15</text>
<rect x="213.20" y="345.00" width="196.40" height="15.00" fill="#f7f7f7"/>
<text x="221.90" y="355.76" font-family='"Liberation Mono", "DejaVu Sans Mono", monospace' font-size="7.17" font-weight="normal" text-anchor="start" fill="#111" xml:space="preserve" stroke="#111" stroke-width="0.22">Huatusco</text>
<text x="343.90" y="355.76" font-family='"Liberation Mono", "DejaVu Sans Mono", monospace' font-size="7.17" font-weight="normal" text-anchor="middle" fill="#111" stroke="#111" stroke-width="0.22">34</text>
<text x="388.10" y="355.76" font-family='"Liberation Mono", "DejaVu Sans Mono", monospace' font-size="7.17" font-weight="normal" text-anchor="middle" fill="#111" stroke="#111" stroke-width="0.22">12</text>
<rect x="213.20" y="360.00" width="196.40" height="14.90" fill="#f7f7f7"/>
<text x="221.90" y="370.71" font-family='"Liberation Mono", "DejaVu Sans Mono", monospace' font-size="7.17" font-weight="normal" text-anchor="start" fill="#111" xml:space="preserve" stroke="#111" stroke-width="0.22">Coscomatepec</text>
<text x="343.90" y="370.71" font-family='"Liberation Mono", "DejaVu Sans Mono", monospace' font-size="7.17" font-weight="normal" text-anchor="middle" fill="#111" stroke="#111" stroke-width="0.22">32</text>
<text x="388.10" y="370.71" font-family='"Liberation Mono", "DejaVu Sans Mono", monospace' font-size="7.17" font-weight="normal" text-anchor="middle" fill="#111" stroke="#111" stroke-width="0.22">18</text>
<rect x="213.20" y="374.90" width="196.40" height="14.90" fill="#f7f7f7"/>
<text x="221.90" y="385.61" font-family='"Liberation Mono", "DejaVu Sans Mono", monospace' font-size="7.17" font-weight="normal" text-anchor="start" fill="#111" xml:space="preserve" stroke="#111" stroke-width="0.22">Córdoba</text>
<text x="343.90" y="385.61" font-family='"Liberation Mono", "DejaVu Sans Mono", monospace' font-size="7.17" font-weight="normal" text-anchor="middle" fill="#111" stroke="#111" stroke-width="0.22">35</text>
<text x="388.10" y="385.61" font-family='"Liberation Mono", "DejaVu Sans Mono", monospace' font-size="7.17" font-weight="normal" text-anchor="middle" fill="#111" stroke="#111" stroke-width="0.22">22</text>
<rect x="213.20" y="389.80" width="196.40" height="14.80" fill="#f7f7f7"/>
<text x="221.90" y="400.46" font-family='"Liberation Mono", "DejaVu Sans Mono", monospace' font-size="7.17" font-weight="normal" text-anchor="start" fill="#111" xml:space="preserve" stroke="#111" stroke-width="0.22">Orizaba</text>
<text x="343.90" y="400.46" font-family='"Liberation Mono", "DejaVu Sans Mono", monospace' font-size="7.17" font-weight="normal" text-anchor="middle" fill="#111" stroke="#111" stroke-width="0.22">33</text>
<text x="388.10" y="400.46" font-family='"Liberation Mono", "DejaVu Sans Mono", monospace' font-size="7.17" font-weight="normal" text-anchor="middle" fill="#111" stroke="#111" stroke-width="0.22">11</text>
<rect x="213.20" y="404.60" width="196.40" height="14.90" fill="#f7f7f7"/>
<text x="221.90" y="415.31" font-family='"Liberation Mono", "DejaVu Sans Mono", monospace' font-size="7.17" font-weight="normal" text-anchor="start" fill="#111" xml:space="preserve" stroke="#111" stroke-width="0.22">Actopan</text>
<text x="343.90" y="415.31" font-family='"Liberation Mono", "DejaVu Sans Mono", monospace' font-size="7.17" font-weight="normal" text-anchor="middle" fill="#111" stroke="#111" stroke-width="0.22">30</text>
<text x="388.10" y="415.31" font-family='"Liberation Mono", "DejaVu Sans Mono", monospace' font-size="7.17" font-weight="normal" text-anchor="middle" fill="#111" stroke="#111" stroke-width="0.22">19</text>
<rect x="213.20" y="419.50" width="196.40" height="14.90" fill="#f7f7f7"/>
<text x="221.90" y="430.21" font-family='"Liberation Mono", "DejaVu Sans Mono", monospace' font-size="7.17" font-weight="normal" text-anchor="start" fill="#111" xml:space="preserve" stroke="#111" stroke-width="0.22">Cardel</text>
<text x="343.90" y="430.21" font-family='"Liberation Mono", "DejaVu Sans Mono", monospace' font-size="7.17" font-weight="normal" text-anchor="middle" fill="#111" stroke="#111" stroke-width="0.22">31</text>
<text x="388.10" y="430.21" font-family='"Liberation Mono", "DejaVu Sans Mono", monospace' font-size="7.17" font-weight="normal" text-anchor="middle" fill="#111" stroke="#111" stroke-width="0.22">18</text>
<rect x="213.20" y="434.40" width="196.40" height="14.80" fill="#f7f7f7"/>
<text x="221.90" y="445.06" font-family='"Liberation Mono", "DejaVu Sans Mono", monospace' font-size="7.17" font-weight="normal" text-anchor="start" fill="#111" xml:space="preserve" stroke="#111" stroke-width="0.22">Veracruz-Boca del Río</text>
<text x="343.90" y="445.06" font-family='"Liberation Mono", "DejaVu Sans Mono", monospace' font-size="7.17" font-weight="normal" text-anchor="middle" fill="#111" stroke="#111" stroke-width="0.22">36</text>
<text x="388.10" y="445.06" font-family='"Liberation Mono", "DejaVu Sans Mono", monospace' font-size="7.17" font-weight="normal" text-anchor="middle" fill="#111" stroke="#111" stroke-width="0.22">24</text>
<rect x="320.20" y="94.40" width="2" height="19.30" fill="#3d3d3d"/>
<rect x="365.60" y="94.40" width="2" height="19.30" fill="#3d3d3d"/>
<rect x="320.20" y="113.70" width="2" height="15.10" fill="#3d3d3d"/>
<rect x="365.60" y="113.70" width="2" height="15.10" fill="#3d3d3d"/>
<rect x="320.20" y="128.80" width="2" height="15.00" fill="#3d3d3d"/>
<rect x="365.60" y="128.80" width="2" height="15.00" fill="#3d3d3d"/>
<rect x="320.20" y="143.80" width="2" height="15.00" fill="#3d3d3d"/>
<rect x="365.60" y="143.80" width="2" height="15.00" fill="#3d3d3d"/>
<rect x="320.20" y="158.80" width="2" height="14.90" fill="#3d3d3d"/>
<rect x="365.60" y="158.80" width="2" height="14.90" fill="#3d3d3d"/>
<rect x="320.20" y="173.70" width="2" height="14.90" fill="#3d3d3d"/>
<rect x="365.60" y="173.70" width="2" height="14.90" fill="#3d3d3d"/>
<rect x="320.20" y="188.60" width="2" height="14.90" fill="#3d3d3d"/>
<rect x="365.60" y="188.60" width="2" height="14.90" fill="#3d3d3d"/>
<rect x="320.20" y="203.50" width="2" height="14.90" fill="#3d3d3d"/>
<rect x="365.60" y="203.50" width="2" height="14.90" fill="#3d3d3d"/>
<rect x="320.20" y="218.40" width="2" height="22.00" fill="#3d3d3d"/>
<rect x="365.60" y="218.40" width="2" height="22.00" fill="#3d3d3d"/>
<rect x="320.20" y="240.40" width="2" height="14.90" fill="#3d3d3d"/>
<rect x="365.60" y="240.40" width="2" height="14.90" fill="#3d3d3d"/>
<rect x="320.20" y="255.30" width="2" height="14.80" fill="#3d3d3d"/>
<rect x="365.60" y="255.30" width="2" height="14.80" fill="#3d3d3d"/>
<rect x="320.20" y="270.10" width="2" height="14.90" fill="#3d3d3d"/>
<rect x="365.60" y="270.10" width="2" height="14.90" fill="#3d3d3d"/>
<rect x="320.20" y="285.00" width="2" height="15.00" fill="#3d3d3d"/>
<rect x="365.60" y="285.00" width="2" height="15.00" fill="#3d3d3d"/>
<rect x="320.20" y="300.00" width="2" height="15.00" fill="#3d3d3d"/>
<rect x="365.60" y="300.00" width="2" height="15.00" fill="#3d3d3d"/>
<rect x="320.20" y="315.00" width="2" height="15.00" fill="#3d3d3d"/>
<rect x="365.60" y="315.00" width="2" height="15.00" fill="#3d3d3d"/>
<rect x="320.20" y="330.00" width="2" height="15.00" fill="#3d3d3d"/>
<rect x="365.60" y="330.00" width="2" height="15.00" fill="#3d3d3d"/>
<rect x="320.20" y="345.00" width="2" height="15.00" fill="#3d3d3d"/>
<rect x="365.60" y="345.00" width="2" height="15.00" fill="#3d3d3d"/>
<rect x="320.20" y="360.00" width="2" height="14.90" fill="#3d3d3d"/>
<rect x="365.60" y="360.00" width="2" height="14.90" fill="#3d3d3d"/>
<rect x="320.20" y="374.90" width="2" height="14.90" fill="#3d3d3d"/>
<rect x="365.60" y="374.90" width="2" height="14.90" fill="#3d3d3d"/>
<rect x="320.20" y="389.80" width="2" height="14.80" fill="#3d3d3d"/>
<rect x="365.60" y="389.80" width="2" height="14.80" fill="#3d3d3d"/>
<rect x="320.20" y="404.60" width="2" height="14.90" fill="#3d3d3d"/>
<rect x="365.60" y="404.60" width="2" height="14.90" fill="#3d3d3d"/>
<rect x="320.20" y="419.50" width="2" height="14.90" fill="#3d3d3d"/>
<rect x="365.60" y="419.50" width="2" height="14.90" fill="#3d3d3d"/>
<rect x="320.20" y="434.40" width="2" height="14.80" fill="#3d3d3d"/>
<rect x="365.60" y="434.40" width="2" height="14.80" fill="#3d3d3d"/>
<rect x="213.20" y="93.83" width="196.40" height="1.15" fill="#1e1e1e"/>
<rect x="213.20" y="112.70" width="196.40" height="2.00" fill="#1e1e1e"/>
<rect x="213.20" y="128.23" width="196.40" height="1.15" fill="#1e1e1e"/>
<rect x="213.20" y="143.23" width="196.40" height="1.15" fill="#1e1e1e"/>
<rect x="213.20" y="158.23" width="196.40" height="1.15" fill="#1e1e1e"/>
<rect x="213.20" y="173.12" width="196.40" height="1.15" fill="#1e1e1e"/>
<rect x="213.20" y="188.03" width="196.40" height="1.15" fill="#1e1e1e"/>
<rect x="213.20" y="202.93" width="196.40" height="1.15" fill="#1e1e1e"/>
<rect x="213.20" y="217.83" width="196.40" height="1.15" fill="#1e1e1e"/>
<rect x="213.20" y="239.83" width="196.40" height="1.15" fill="#1e1e1e"/>
<rect x="213.20" y="254.73" width="196.40" height="1.15" fill="#1e1e1e"/>
<rect x="213.20" y="269.53" width="196.40" height="1.15" fill="#1e1e1e"/>
<rect x="213.20" y="284.43" width="196.40" height="1.15" fill="#1e1e1e"/>
<rect x="213.20" y="299.43" width="196.40" height="1.15" fill="#1e1e1e"/>
<rect x="213.20" y="314.43" width="196.40" height="1.15" fill="#1e1e1e"/>
<rect x="213.20" y="329.43" width="196.40" height="1.15" fill="#1e1e1e"/>
<rect x="213.20" y="344.43" width="196.40" height="1.15" fill="#1e1e1e"/>
<rect x="213.20" y="359.43" width="196.40" height="1.15" fill="#1e1e1e"/>
<rect x="213.20" y="374.32" width="196.40" height="1.15" fill="#1e1e1e"/>
<rect x="213.20" y="389.23" width="196.40" height="1.15" fill="#1e1e1e"/>
<rect x="213.20" y="404.03" width="196.40" height="1.15" fill="#1e1e1e"/>
<rect x="213.20" y="418.93" width="196.40" height="1.15" fill="#1e1e1e"/>
<rect x="213.20" y="433.82" width="196.40" height="1.15" fill="#1e1e1e"/>
<rect x="213.20" y="79.00" width="196.40" height="370.20" fill="none" stroke="#1e1e1e" stroke-width="1.5"/>
<rect x="421.20" y="79.00" width="196.40" height="15.40" fill="#bfd994"/>
<text x="519.40" y="89.80" font-family='"Liberation Mono", "DejaVu Sans Mono", monospace' font-size="8.8" font-weight="bold" text-anchor="middle" fill="#000" stroke="#000" stroke-width="0.2">Veracruz</text>
<rect x="421.20" y="94.40" width="196.40" height="19.30" fill="#b4cee6"/>
<text x="475.20" y="107.06" font-family='"Liberation Mono", "DejaVu Sans Mono", monospace' font-size="6.4" font-weight="bold" text-anchor="middle" fill="#0d1520" stroke="#0d1520" stroke-width="0.15">27CIUDAD</text>
<text x="551.70" y="107.06" font-family='"Liberation Mono", "DejaVu Sans Mono", monospace' font-size="6.4" font-weight="bold" text-anchor="middle" fill="#0d1520" stroke="#0d1520" stroke-width="0.15">T. MÁX.</text>
<text x="595.90" y="103.46" font-family='"Liberation Mono", "DejaVu Sans Mono", monospace' font-size="6.4" font-weight="bold" text-anchor="middle" fill="#0d1520" stroke="#0d1520" stroke-width="0.15">T.</text>
<text x="595.90" y="110.66" font-family='"Liberation Mono", "DejaVu Sans Mono", monospace' font-size="6.4" font-weight="bold" text-anchor="middle" fill="#0d1520" stroke="#0d1520" stroke-width="0.15">MÍN.</text>
<rect x="421.20" y="113.70" width="196.40" height="15.10" fill="#f7f7f7"/>
<text x="427.50" y="124.51" font-family='"Liberation Mono", "DejaVu Sans Mono", monospace' font-size="7.17" font-weight="normal" text-anchor="start" fill="#111" xml:space="preserve" stroke="#111" stroke-width="0.22">Tezonapa</text>
<text x="551.70" y="124.51" font-family='"Liberation Mono", "DejaVu Sans Mono", monospace' font-size="7.17" font-weight="normal" text-anchor="middle" fill="#111" stroke="#111" stroke-width="0.22">38</text>
<text x="595.90" y="124.51" font-family='"Liberation Mono", "DejaVu Sans Mono", monospace' font-size="7.17" font-weight="normal" text-anchor="middle" fill="#111" stroke="#111" stroke-width="0.22">28</text>
<rect x="421.20" y="128.80" width="196.40" height="15.00" fill="#f7f7f7"/>
<text x="430.00" y="139.56" font-family='"Liberation Mono", "DejaVu Sans Mono", monospace' font-size="7.17" font-weight="normal" text-anchor="start" fill="#111" xml:space="preserve" stroke="#111" stroke-width="0.22">Tierra Blanca</text>
<text x="551.70" y="139.56" font-family='"Liberation Mono", "DejaVu Sans Mono", monospace' font-size="7.17" font-weight="normal" text-anchor="middle" fill="#111" stroke="#111" stroke-width="0.22">36</text>
<text x="595.90" y="139.56" font-family='"Liberation Mono", "DejaVu Sans Mono", monospace' font-size="7.17" font-weight="normal" text-anchor="middle" fill="#111" stroke="#111" stroke-width="0.22">27</text>
<rect x="421.20" y="143.80" width="196.40" height="15.00" fill="#f7f7f7"/>
<text x="430.00" y="154.56" font-family='"Liberation Mono", "DejaVu Sans Mono", monospace' font-size="7.17" font-weight="normal" text-anchor="start" fill="#111" xml:space="preserve" stroke="#111" stroke-width="0.22">Cosamaloapan</text>
<text x="551.70" y="154.56" font-family='"Liberation Mono", "DejaVu Sans Mono", monospace' font-size="7.17" font-weight="normal" text-anchor="middle" fill="#111" stroke="#111" stroke-width="0.22">36</text>
<text x="595.90" y="154.56" font-family='"Liberation Mono", "DejaVu Sans Mono", monospace' font-size="7.17" font-weight="normal" text-anchor="middle" fill="#111" stroke="#111" stroke-width="0.22">25</text>
<rect x="421.20" y="158.80" width="196.40" height="14.90" fill="#f7f7f7"/>
<text x="430.00" y="169.51" font-family='"Liberation Mono", "DejaVu Sans Mono", monospace' font-size="7.17" font-weight="normal" text-anchor="start" fill="#111" xml:space="preserve" stroke="#111" stroke-width="0.22">Tlacotalpan</text>
<text x="551.70" y="169.51" font-family='"Liberation Mono", "DejaVu Sans Mono", monospace' font-size="7.17" font-weight="normal" text-anchor="middle" fill="#111" stroke="#111" stroke-width="0.22">36</text>
<text x="595.90" y="169.51" font-family='"Liberation Mono", "DejaVu Sans Mono", monospace' font-size="7.17" font-weight="normal" text-anchor="middle" fill="#111" stroke="#111" stroke-width="0.22">25</text>
<rect x="421.20" y="173.70" width="196.40" height="14.90" fill="#f7f7f7"/>
<text x="430.00" y="184.41" font-family='"Liberation Mono", "DejaVu Sans Mono", monospace' font-size="7.17" font-weight="normal" text-anchor="start" fill="#111" xml:space="preserve" stroke="#111" stroke-width="0.22">Alvarado</text>
<text x="551.70" y="184.41" font-family='"Liberation Mono", "DejaVu Sans Mono", monospace' font-size="7.17" font-weight="normal" text-anchor="middle" fill="#111" stroke="#111" stroke-width="0.22">36</text>
<text x="595.90" y="184.41" font-family='"Liberation Mono", "DejaVu Sans Mono", monospace' font-size="7.17" font-weight="normal" text-anchor="middle" fill="#111" stroke="#111" stroke-width="0.22">27</text>
<rect x="421.20" y="188.60" width="196.40" height="14.90" fill="#f7f7f7"/>
<text x="430.00" y="199.31" font-family='"Liberation Mono", "DejaVu Sans Mono", monospace' font-size="7.17" font-weight="normal" text-anchor="start" fill="#111" xml:space="preserve" stroke="#111" stroke-width="0.22">San Andrés Tuxtla</text>
<text x="551.70" y="199.31" font-family='"Liberation Mono", "DejaVu Sans Mono", monospace' font-size="7.17" font-weight="normal" text-anchor="middle" fill="#111" stroke="#111" stroke-width="0.22">35</text>
<text x="595.90" y="199.31" font-family='"Liberation Mono", "DejaVu Sans Mono", monospace' font-size="7.17" font-weight="normal" text-anchor="middle" fill="#111" stroke="#111" stroke-width="0.22">27</text>
<rect x="421.20" y="203.50" width="196.40" height="14.90" fill="#f7f7f7"/>
<text x="430.00" y="214.21" font-family='"Liberation Mono", "DejaVu Sans Mono", monospace' font-size="7.17" font-weight="normal" text-anchor="start" fill="#111" xml:space="preserve" stroke="#111" stroke-width="0.22">Catemaco</text>
<text x="551.70" y="214.21" font-family='"Liberation Mono", "DejaVu Sans Mono", monospace' font-size="7.17" font-weight="normal" text-anchor="middle" fill="#111" stroke="#111" stroke-width="0.22">35</text>
<text x="595.90" y="214.21" font-family='"Liberation Mono", "DejaVu Sans Mono", monospace' font-size="7.17" font-weight="normal" text-anchor="middle" fill="#111" stroke="#111" stroke-width="0.22">25</text>
<rect x="421.20" y="218.40" width="196.40" height="15.00" fill="#f7f7f7"/>
<text x="430.00" y="229.16" font-family='"Liberation Mono", "DejaVu Sans Mono", monospace' font-size="7.17" font-weight="normal" text-anchor="start" fill="#111" xml:space="preserve" stroke="#111" stroke-width="0.22">Acayucan</text>
<text x="551.70" y="229.16" font-family='"Liberation Mono", "DejaVu Sans Mono", monospace' font-size="7.17" font-weight="normal" text-anchor="middle" fill="#111" stroke="#111" stroke-width="0.22">35</text>
<text x="595.90" y="229.16" font-family='"Liberation Mono", "DejaVu Sans Mono", monospace' font-size="7.17" font-weight="normal" text-anchor="middle" fill="#111" stroke="#111" stroke-width="0.22">30</text>
<rect x="421.20" y="233.40" width="196.40" height="21.90" fill="#f7f7f7"/>
<text x="430.00" y="243.56" font-family='"Liberation Mono", "DejaVu Sans Mono", monospace' font-size="7.17" font-weight="normal" text-anchor="start" fill="#111" xml:space="preserve" stroke="#111" stroke-width="0.22">Jáltipan-</text>
<text x="430.00" y="251.66" font-family='"Liberation Mono", "DejaVu Sans Mono", monospace' font-size="7.17" font-weight="normal" text-anchor="start" fill="#111" xml:space="preserve" stroke="#111" stroke-width="0.22">Hidalgotitlán</text>
<text x="551.70" y="247.61" font-family='"Liberation Mono", "DejaVu Sans Mono", monospace' font-size="7.17" font-weight="normal" text-anchor="middle" fill="#111" stroke="#111" stroke-width="0.22">31</text>
<text x="595.90" y="247.61" font-family='"Liberation Mono", "DejaVu Sans Mono", monospace' font-size="7.17" font-weight="normal" text-anchor="middle" fill="#111" stroke="#111" stroke-width="0.22">36</text>
<rect x="421.20" y="255.30" width="196.40" height="21.70" fill="#f7f7f7"/>
<text x="430.00" y="265.36" font-family='"Liberation Mono", "DejaVu Sans Mono", monospace' font-size="7.17" font-weight="normal" text-anchor="start" fill="#111" xml:space="preserve" stroke="#111" stroke-width="0.22">Coatzacoalcos-</text>
<text x="430.00" y="273.46" font-family='"Liberation Mono", "DejaVu Sans Mono", monospace' font-size="7.17" font-weight="normal" text-anchor="start" fill="#111" xml:space="preserve" stroke="#111" stroke-width="0.22">Minatitlán</text>
<text x="551.70" y="269.41" font-family='"Liberation Mono", "DejaVu Sans Mono", monospace' font-size="7.17" font-weight="normal" text-anchor="middle" fill="#111" stroke="#111" stroke-width="0.22">36</text>
<text x="595.90" y="269.41" font-family='"Liberation Mono", "DejaVu Sans Mono", monospace' font-size="7.17" font-weight="normal" text-anchor="middle" fill="#111" stroke="#111" stroke-width="0.22">25</text>
<rect x="421.20" y="277.00" width="196.40" height="15.00" fill="#f7f7f7"/>
<text x="430.00" y="287.76" font-family='"Liberation Mono", "DejaVu Sans Mono", monospace' font-size="7.17" font-weight="normal" text-anchor="start" fill="#111" xml:space="preserve" stroke="#111" stroke-width="0.22">Las Choapas</text>
<text x="551.70" y="287.76" font-family='"Liberation Mono", "DejaVu Sans Mono", monospace' font-size="7.17" font-weight="normal" text-anchor="middle" fill="#111" stroke="#111" stroke-width="0.22">36</text>
<text x="595.90" y="287.76" font-family='"Liberation Mono", "DejaVu Sans Mono", monospace' font-size="7.17" font-weight="normal" text-anchor="middle" fill="#111" stroke="#111" stroke-width="0.22">26</text>
<rect x="421.20" y="292.00" width="196.40" height="15.80" fill="#bfd994"/>
<text x="519.40" y="303.00" font-family='"Liberation Mono", "DejaVu Sans Mono", monospace' font-size="8.8" font-weight="bold" text-anchor="middle" fill="#000" stroke="#000" stroke-width="0.2">Oaxaca</text>
<rect x="421.20" y="307.80" width="196.40" height="19.50" fill="#b4cee6"/>
<text x="475.20" y="320.56" font-family='"Liberation Mono", "DejaVu Sans Mono", monospace' font-size="6.4" font-weight="bold" text-anchor="middle" fill="#0d1520" stroke="#0d1520" stroke-width="0.15">CIUDAD</text>
<text x="551.70" y="320.56" font-family='"Liberation Mono", "DejaVu Sans Mono", monospace' font-size="6.4" font-weight="bold" text-anchor="middle" fill="#0d1520" stroke="#0d1520" stroke-width="0.15">T. MÁX.</text>
<text x="595.90" y="316.96" font-family='"Liberation Mono", "DejaVu Sans Mono", monospace' font-size="6.4" font-weight="bold" text-anchor="middle" fill="#0d1520" stroke="#0d1520" stroke-width="0.15">T.</text>
<text x="595.90" y="324.16" font-family='"Liberation Mono", "DejaVu Sans Mono", monospace' font-size="6.4" font-weight="bold" text-anchor="middle" fill="#0d1520" stroke="#0d1520" stroke-width="0.15">MÍN.</text>
<rect x="421.20" y="327.30" width="196.40" height="21.90" fill="#f7f7f7"/>
<text x="430.00" y="337.46" font-family='"Liberation Mono", "DejaVu Sans Mono", monospace' font-size="7.17" font-weight="normal" text-anchor="start" fill="#111" xml:space="preserve" stroke="#111" stroke-width="0.22">Acatlán de Pérez</text>
<text x="430.00" y="345.56" font-family='"Liberation Mono", "DejaVu Sans Mono", monospace' font-size="7.17" font-weight="normal" text-anchor="start" fill="#111" xml:space="preserve" stroke="#111" stroke-width="0.22">Figueroa</text>
<text x="551.70" y="341.51" font-family='"Liberation Mono", "DejaVu Sans Mono", monospace' font-size="7.17" font-weight="normal" text-anchor="middle" fill="#111" stroke="#111" stroke-width="0.22">35</text>
<text x="595.90" y="341.51" font-family='"Liberation Mono", "DejaVu Sans Mono", monospace' font-size="7.17" font-weight="normal" text-anchor="middle" fill="#111" stroke="#111" stroke-width="0.22">25</text>
<rect x="421.20" y="349.20" width="196.40" height="14.90" fill="#f7f7f7"/>
<text x="430.00" y="359.91" font-family='"Liberation Mono", "DejaVu Sans Mono", monospace' font-size="7.17" font-weight="normal" text-anchor="start" fill="#111" xml:space="preserve" stroke="#111" stroke-width="0.22">Huautla  de Jiménez</text>
<text x="551.70" y="359.91" font-family='"Liberation Mono", "DejaVu Sans Mono", monospace' font-size="7.17" font-weight="normal" text-anchor="middle" fill="#111" stroke="#111" stroke-width="0.22">30</text>
<text x="595.90" y="359.91" font-family='"Liberation Mono", "DejaVu Sans Mono", monospace' font-size="7.17" font-weight="normal" text-anchor="middle" fill="#111" stroke="#111" stroke-width="0.22">17</text>
<rect x="421.20" y="364.10" width="196.40" height="14.90" fill="#f7f7f7"/>
<text x="430.00" y="374.81" font-family='"Liberation Mono", "DejaVu Sans Mono", monospace' font-size="7.17" font-weight="normal" text-anchor="start" fill="#111" xml:space="preserve" stroke="#111" stroke-width="0.22">Cuicatlán</text>
<text x="551.70" y="374.81" font-family='"Liberation Mono", "DejaVu Sans Mono", monospace' font-size="7.17" font-weight="normal" text-anchor="middle" fill="#111" stroke="#111" stroke-width="0.22">34</text>
<text x="595.90" y="374.81" font-family='"Liberation Mono", "DejaVu Sans Mono", monospace' font-size="7.17" font-weight="normal" text-anchor="middle" fill="#111" stroke="#111" stroke-width="0.22">16</text>
<rect x="421.20" y="379.00" width="196.40" height="14.80" fill="#f7f7f7"/>
<text x="430.00" y="389.66" font-family='"Liberation Mono", "DejaVu Sans Mono", monospace' font-size="7.17" font-weight="normal" text-anchor="start" fill="#111" xml:space="preserve" stroke="#111" stroke-width="0.22">Valle Nacional</text>
<text x="551.70" y="389.66" font-family='"Liberation Mono", "DejaVu Sans Mono", monospace' font-size="7.17" font-weight="normal" text-anchor="middle" fill="#111" stroke="#111" stroke-width="0.22">34</text>
<text x="595.90" y="389.66" font-family='"Liberation Mono", "DejaVu Sans Mono", monospace' font-size="7.17" font-weight="normal" text-anchor="middle" fill="#111" stroke="#111" stroke-width="0.22">16</text>
<rect x="421.20" y="393.80" width="196.40" height="15.00" fill="#f7f7f7"/>
<text x="430.00" y="404.56" font-family='"Liberation Mono", "DejaVu Sans Mono", monospace' font-size="7.17" font-weight="normal" text-anchor="start" fill="#111" xml:space="preserve" stroke="#111" stroke-width="0.22">San Felipe Usila</text>
<text x="551.70" y="404.56" font-family='"Liberation Mono", "DejaVu Sans Mono", monospace' font-size="7.17" font-weight="normal" text-anchor="middle" fill="#111" stroke="#111" stroke-width="0.22">32</text>
<text x="595.90" y="404.56" font-family='"Liberation Mono", "DejaVu Sans Mono", monospace' font-size="7.17" font-weight="normal" text-anchor="middle" fill="#111" stroke="#111" stroke-width="0.22">25</text>
<rect x="421.20" y="408.80" width="196.40" height="14.90" fill="#f7f7f7"/>
<text x="430.00" y="419.51" font-family='"Liberation Mono", "DejaVu Sans Mono", monospace' font-size="7.17" font-weight="normal" text-anchor="start" fill="#111" xml:space="preserve" stroke="#111" stroke-width="0.22">San Lucas Ojitlán</text>
<text x="551.70" y="419.51" font-family='"Liberation Mono", "DejaVu Sans Mono", monospace' font-size="7.17" font-weight="normal" text-anchor="middle" fill="#111" stroke="#111" stroke-width="0.22">38</text>
<text x="595.90" y="419.51" font-family='"Liberation Mono", "DejaVu Sans Mono", monospace' font-size="7.17" font-weight="normal" text-anchor="middle" fill="#111" stroke="#111" stroke-width="0.22">26</text>
<rect x="421.20" y="423.70" width="196.40" height="14.90" fill="#f7f7f7"/>
<text x="430.00" y="434.41" font-family='"Liberation Mono", "DejaVu Sans Mono", monospace' font-size="7.17" font-weight="normal" text-anchor="start" fill="#111" xml:space="preserve" stroke="#111" stroke-width="0.22">Tuxtepec</text>
<text x="551.70" y="434.41" font-family='"Liberation Mono", "DejaVu Sans Mono", monospace' font-size="7.17" font-weight="normal" text-anchor="middle" fill="#111" stroke="#111" stroke-width="0.22">38</text>
<text x="595.90" y="434.41" font-family='"Liberation Mono", "DejaVu Sans Mono", monospace' font-size="7.17" font-weight="normal" text-anchor="middle" fill="#111" stroke="#111" stroke-width="0.22">24</text>
<rect x="421.20" y="438.60" width="196.40" height="14.90" fill="#f7f7f7"/>
<text x="430.00" y="449.31" font-family='"Liberation Mono", "DejaVu Sans Mono", monospace' font-size="7.17" font-weight="normal" text-anchor="start" fill="#111" xml:space="preserve" stroke="#111" stroke-width="0.22">Loma Bonita</text>
<text x="551.70" y="449.31" font-family='"Liberation Mono", "DejaVu Sans Mono", monospace' font-size="7.17" font-weight="normal" text-anchor="middle" fill="#111" stroke="#111" stroke-width="0.22">35</text>
<text x="595.90" y="449.31" font-family='"Liberation Mono", "DejaVu Sans Mono", monospace' font-size="7.17" font-weight="normal" text-anchor="middle" fill="#111" stroke="#111" stroke-width="0.22">24</text>
<rect x="421.20" y="453.50" width="196.40" height="14.90" fill="#f7f7f7"/>
<text x="430.00" y="464.21" font-family='"Liberation Mono", "DejaVu Sans Mono", monospace' font-size="7.17" font-weight="normal" text-anchor="start" fill="#111" xml:space="preserve" stroke="#111" stroke-width="0.22">Matías Romero</text>
<text x="551.70" y="464.21" font-family='"Liberation Mono", "DejaVu Sans Mono", monospace' font-size="7.17" font-weight="normal" text-anchor="middle" fill="#111" stroke="#111" stroke-width="0.22">35</text>
<text x="595.90" y="464.21" font-family='"Liberation Mono", "DejaVu Sans Mono", monospace' font-size="7.17" font-weight="normal" text-anchor="middle" fill="#111" stroke="#111" stroke-width="0.22">26</text>
<rect x="528.20" y="94.40" width="2" height="19.30" fill="#3d3d3d"/>
<rect x="573.20" y="94.40" width="2" height="19.30" fill="#3d3d3d"/>
<rect x="528.20" y="113.70" width="2" height="15.10" fill="#3d3d3d"/>
<rect x="573.20" y="113.70" width="2" height="15.10" fill="#3d3d3d"/>
<rect x="528.20" y="128.80" width="2" height="15.00" fill="#3d3d3d"/>
<rect x="573.20" y="128.80" width="2" height="15.00" fill="#3d3d3d"/>
<rect x="528.20" y="143.80" width="2" height="15.00" fill="#3d3d3d"/>
<rect x="573.20" y="143.80" width="2" height="15.00" fill="#3d3d3d"/>
<rect x="528.20" y="158.80" width="2" height="14.90" fill="#3d3d3d"/>
<rect x="573.20" y="158.80" width="2" height="14.90" fill="#3d3d3d"/>
<rect x="528.20" y="173.70" width="2" height="14.90" fill="#3d3d3d"/>
<rect x="573.20" y="173.70" width="2" height="14.90" fill="#3d3d3d"/>
<rect x="528.20" y="188.60" width="2" height="14.90" fill="#3d3d3d"/>
<rect x="573.20" y="188.60" width="2" height="14.90" fill="#3d3d3d"/>
<rect x="528.20" y="203.50" width="2" height="14.90" fill="#3d3d3d"/>
<rect x="573.20" y="203.50" width="2" height="14.90" fill="#3d3d3d"/>
<rect x="528.20" y="218.40" width="2" height="15.00" fill="#3d3d3d"/>
<rect x="573.20" y="218.40" width="2" height="15.00" fill="#3d3d3d"/>
<rect x="528.20" y="233.40" width="2" height="21.90" fill="#3d3d3d"/>
<rect x="573.20" y="233.40" width="2" height="21.90" fill="#3d3d3d"/>
<rect x="528.20" y="255.30" width="2" height="21.70" fill="#3d3d3d"/>
<rect x="573.20" y="255.30" width="2" height="21.70" fill="#3d3d3d"/>
<rect x="528.20" y="277.00" width="2" height="15.00" fill="#3d3d3d"/>
<rect x="573.20" y="277.00" width="2" height="15.00" fill="#3d3d3d"/>
<rect x="528.20" y="307.80" width="2" height="19.50" fill="#3d3d3d"/>
<rect x="573.20" y="307.80" width="2" height="19.50" fill="#3d3d3d"/>
<rect x="528.20" y="327.30" width="2" height="21.90" fill="#3d3d3d"/>
<rect x="573.20" y="327.30" width="2" height="21.90" fill="#3d3d3d"/>
<rect x="528.20" y="349.20" width="2" height="14.90" fill="#3d3d3d"/>
<rect x="573.20" y="349.20" width="2" height="14.90" fill="#3d3d3d"/>
<rect x="528.20" y="364.10" width="2" height="14.90" fill="#3d3d3d"/>
<rect x="573.20" y="364.10" width="2" height="14.90" fill="#3d3d3d"/>
<rect x="528.20" y="379.00" width="2" height="14.80" fill="#3d3d3d"/>
<rect x="573.20" y="379.00" width="2" height="14.80" fill="#3d3d3d"/>
<rect x="528.20" y="393.80" width="2" height="15.00" fill="#3d3d3d"/>
<rect x="573.20" y="393.80" width="2" height="15.00" fill="#3d3d3d"/>
<rect x="528.20" y="408.80" width="2" height="14.90" fill="#3d3d3d"/>
<rect x="573.20" y="408.80" width="2" height="14.90" fill="#3d3d3d"/>
<rect x="528.20" y="423.70" width="2" height="14.90" fill="#3d3d3d"/>
<rect x="573.20" y="423.70" width="2" height="14.90" fill="#3d3d3d"/>
<rect x="528.20" y="438.60" width="2" height="14.90" fill="#3d3d3d"/>
<rect x="573.20" y="438.60" width="2" height="14.90" fill="#3d3d3d"/>
<rect x="528.20" y="453.50" width="2" height="14.90" fill="#3d3d3d"/>
<rect x="573.20" y="453.50" width="2" height="14.90" fill="#3d3d3d"/>
<rect x="421.20" y="93.83" width="196.40" height="1.15" fill="#1e1e1e"/>
<rect x="421.20" y="112.70" width="196.40" height="2.00" fill="#1e1e1e"/>
<rect x="421.20" y="128.23" width="196.40" height="1.15" fill="#1e1e1e"/>
<rect x="421.20" y="143.23" width="196.40" height="1.15" fill="#1e1e1e"/>
<rect x="421.20" y="158.23" width="196.40" height="1.15" fill="#1e1e1e"/>
<rect x="421.20" y="173.12" width="196.40" height="1.15" fill="#1e1e1e"/>
<rect x="421.20" y="188.03" width="196.40" height="1.15" fill="#1e1e1e"/>
<rect x="421.20" y="202.93" width="196.40" height="1.15" fill="#1e1e1e"/>
<rect x="421.20" y="217.83" width="196.40" height="1.15" fill="#1e1e1e"/>
<rect x="421.20" y="232.83" width="196.40" height="1.15" fill="#1e1e1e"/>
<rect x="421.20" y="254.73" width="196.40" height="1.15" fill="#1e1e1e"/>
<rect x="421.20" y="276.43" width="196.40" height="1.15" fill="#1e1e1e"/>
<rect x="421.20" y="291.43" width="196.40" height="1.15" fill="#1e1e1e"/>
<rect x="421.20" y="307.23" width="196.40" height="1.15" fill="#1e1e1e"/>
<rect x="421.20" y="326.30" width="196.40" height="2.00" fill="#1e1e1e"/>
<rect x="421.20" y="348.62" width="196.40" height="1.15" fill="#1e1e1e"/>
<rect x="421.20" y="363.53" width="196.40" height="1.15" fill="#1e1e1e"/>
<rect x="421.20" y="378.43" width="196.40" height="1.15" fill="#1e1e1e"/>
<rect x="421.20" y="393.23" width="196.40" height="1.15" fill="#1e1e1e"/>
<rect x="421.20" y="408.23" width="196.40" height="1.15" fill="#1e1e1e"/>
<rect x="421.20" y="423.12" width="196.40" height="1.15" fill="#1e1e1e"/>
<rect x="421.20" y="438.03" width="196.40" height="1.15" fill="#1e1e1e"/>
<rect x="421.20" y="452.93" width="196.40" height="1.15" fill="#1e1e1e"/>
<rect x="421.20" y="79.00" width="196.40" height="389.40" fill="none" stroke="#1e1e1e" stroke-width="1.5"/>
</svg>
<!-- footer text -->
<div class="t" style="left:10px;top:461.9px;font-size:7.25px;color:#262626;-webkit-text-stroke:0.15px #262626;">CENTRO HIDROMETEOROLÓGICO REGIONAL BOCA DEL RÍO</div>
<div class="t" style="left:10px;top:470.7px;font-size:7.25px;color:#262626;-webkit-text-stroke:0.15px #262626;">Teléfono: (229) 923 3950, extensión 1568</div>
<div class="t" style="left:264.2px;top:469.6px;font-size:8.1px;color:#2a2a2a;-webkit-text-stroke:0.15px #2a2a2a;">www.conagua.gob.mx/ocgc</div>
<div class="t" style="left:629.3px;top:470.5px;font-size:8px;color:#9a9a9a;font-family:"Liberation Sans", "DejaVu Sans", sans-serif;">3</div>
</body></html>
